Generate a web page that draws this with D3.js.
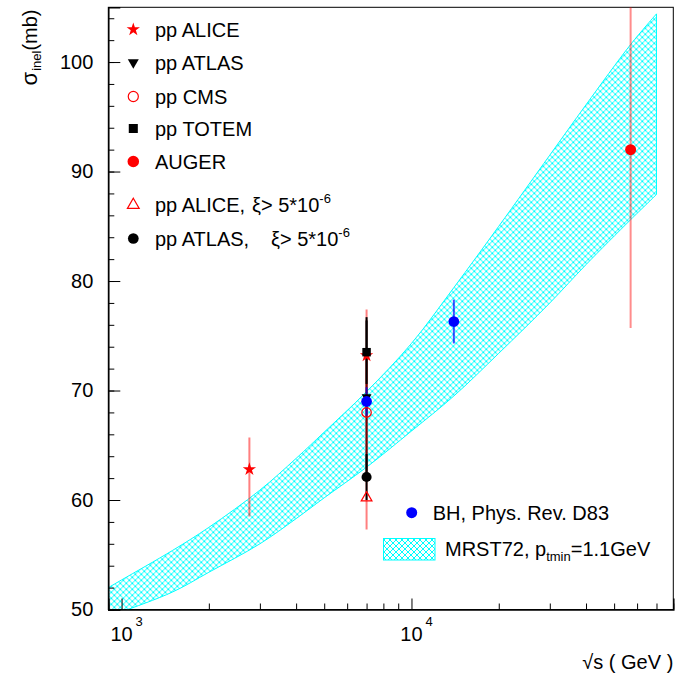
<!DOCTYPE html>
<html>
<head>
<meta charset="utf-8">
<script src="https://cdnjs.cloudflare.com/ajax/libs/d3/7.8.5/d3.min.js"></script>
<style>
body { margin: 0; background: #fff; }
svg text { font-family: "Liberation Sans", Arial, Helvetica, sans-serif; fill: #000; }
</style>
</head>
<body>
<div class="chart"></div>
<script>
// MRST72 band, p_tmin = 1.1 GeV
var bandEnergy = [900, 1000, 1500, 2000, 3000, 4000, 5000, 7000, 10000, 14000, 20000, 30000, 40000, 57000, 70000];
var bandLow    = [49.4, 49.8, 51.6, 53.4, 56.0, 58.3, 60.2, 63.0, 66.3, 69.5, 73.4, 78.0, 81.5, 85.6, 87.9];
var bandHigh   = [52.0, 52.7, 55.4, 57.5, 60.9, 63.8, 66.2, 69.9, 74.3, 79.4, 85.0, 91.5, 96.1, 101.6, 104.4];

// measurements: sqrt(s) in GeV, sigma_inel in mb, lower / upper error
var aliceE = [2760, 7000],  aliceSig = [62.8, 73.2], aliceLo = [4.3, 5.3], aliceHi = [2.9, 4.2];
var atlasE = [7000],        atlasSig = [69.4],       atlasLo = [7.3],      atlasHi = [7.3];
var cmsE = [7000],          cmsSig = [68.0],         cmsLo = [5.0],        cmsHi = [5.0];
var totemE = [7000],        totemSig = [73.5],       totemLo = [2.9],      totemHi = [2.9];
var augerE = [57000],       augerSig = [92.0],       augerLo = [16.3],     augerHi = [16.3];
var aliceXiE = [7000],      aliceXiSig = [60.2],     aliceXiLo = [2.9],    aliceXiHi = [2.9];
var atlasXiE = [7000],      atlasXiSig = [62.1],     atlasXiLo = [2.1],    atlasXiHi = [2.1];
var bhE = [7000, 14000],    bhSig = [69.0, 76.3],    bhLo = [1.3, 2.0],    bhHi = [1.3, 2.0];

var yTicks = [50, 60, 70, 80, 90, 100];
var xTicks = [1000, 10000];

var svgWidth = 682, svgHeight = 676;
var margin = { top: 7.3, right: 8.7, bottom: 66.5, left: 108.3 };
var width = svgWidth - margin.left - margin.right;
var height = svgHeight - margin.top - margin.bottom;

var svg = d3.select(".chart").append("svg")
    .attr("width", svgWidth)
    .attr("height", svgHeight);

var defs = svg.append("defs");
var pat = defs.append("pattern")
    .attr("id", "hatch")
    .attr("patternUnits", "userSpaceOnUse")
    .attr("width", 6).attr("height", 6);
pat.append("path")
    .attr("d", "M0,0 L6,6 M6,0 L0,6 M-1,5 L1,7 M5,-1 L7,1 M-1,1 L1,-1 M5,7 L7,5")
    .attr("stroke", "#00ffff")
    .attr("stroke-width", 1)
    .attr("shape-rendering", "crispEdges")
    .attr("fill", "none");

defs.append("clipPath").attr("id", "plotclip")
  .append("rect").attr("width", width).attr("height", height);

var chart = svg.append("g")
    .attr("transform", `translate(${margin.left}, ${margin.top})`);

var xScale = d3.scaleLog().domain([900, 80000]).range([0, width]);
var yScale = d3.scaleLinear().domain([50, 105]).range([height, 0]);

// frame
chart.append("rect")
    .attr("width", width).attr("height", height)
    .attr("fill", "none").attr("stroke", "#000").attr("stroke-width", 1);

var plot = chart.append("g").attr("clip-path", "url(#plotclip)");

// band
var bandData = bandEnergy.map((e, i) => ({ e: e, lo: bandLow[i], hi: bandHigh[i] }));
var area = d3.area()
    .x(d => xScale(d.e))
    .y0(d => yScale(d.lo))
    .y1(d => yScale(d.hi))
    .curve(d3.curveCatmullRom);
plot.append("path")
    .datum(bandData)
    .attr("d", area)
    .attr("fill", "url(#hatch)")
    .attr("stroke", "#00ffff")
    .attr("stroke-width", 1);

var redBar = "rgba(255,0,0,0.5)";
var series = [
  { name: "pp ALICE",  type: d3.symbolStar,     size: 55, rot: 0,   fill: "red",  stroke: "none", bar: redBar,  x: aliceE,  y: aliceSig,  lo: aliceLo,  hi: aliceHi },
  { name: "pp ATLAS",  type: d3.symbolTriangle, size: 42, rot: 180, fill: "#000", stroke: "none", bar: "#000",  x: atlasE,  y: atlasSig,  lo: atlasLo,  hi: atlasHi },
  { name: "pp CMS",    type: d3.symbolCircle,   size: 70, rot: 0,   fill: "none", stroke: "red",  bar: redBar,  x: cmsE,    y: cmsSig,    lo: cmsLo,    hi: cmsHi },
  { name: "pp TOTEM",  type: d3.symbolSquare,   size: 72, rot: 0,   fill: "#000", stroke: "none", bar: "#000",  x: totemE,  y: totemSig,  lo: totemLo,  hi: totemHi },
  { name: "AUGER",     type: d3.symbolCircle,   size: 95, rot: 0,   fill: "red",  stroke: "none", bar: "rgba(255,0,0,0.45)", x: augerE, y: augerSig, lo: augerLo, hi: augerHi },
  { name: "pp ALICE xi", type: d3.symbolTriangle, size: 50, rot: 0, fill: "none", stroke: "red",  bar: redBar,  x: aliceXiE, y: aliceXiSig, lo: aliceXiLo, hi: aliceXiHi },
  { name: "pp ATLAS xi", type: d3.symbolCircle,   size: 80, rot: 0, fill: "#000", stroke: "none", bar: "#000",  x: atlasXiE, y: atlasXiSig, lo: atlasXiLo, hi: atlasXiHi },
  { name: "BH",        type: d3.symbolCircle,   size: 90, rot: 0,   fill: "#0000ff", stroke: "none", bar: "rgba(0,0,255,0.7)", x: bhE, y: bhSig, lo: bhLo, hi: bhHi }
];

// error bars first
series.forEach(function (s) {
  var pts = s.x.map((e, i) => ({ e: e, v: s.y[i], lo: s.lo[i], hi: s.hi[i] }));
  plot.selectAll(null).data(pts).enter().append("line")
      .attr("x1", d => xScale(d.e)).attr("x2", d => xScale(d.e))
      .attr("y1", d => yScale(d.v - d.lo)).attr("y2", d => yScale(d.v + d.hi))
      .attr("stroke", s.bar).attr("stroke-width", 2);
});

// draw order for markers: ALICE star under TOTEM square
var order = [0, 3, 1, 7, 2, 6, 5, 4];
order.forEach(function (k) {
  var s = series[k];
  var pts = s.x.map((e, i) => ({ e: e, v: s.y[i] }));
  plot.selectAll(null).data(pts).enter().append("path")
      .attr("d", d3.symbol().type(s.type).size(s.size))
      .attr("transform", d => `translate(${xScale(d.e)}, ${yScale(d.v)}) rotate(${s.rot})`)
      .attr("fill", s.fill)
      .attr("stroke", s.stroke)
      .attr("stroke-width", 1.2);
});

// y axis
var yMinor = d3.range(50, 105.1, 2);
chart.append("g").call(d3.axisLeft(yScale).tickValues(yMinor).tickSize(-6).tickFormat(""))
    .call(g => g.select(".domain").remove());
var yAxis = chart.append("g")
    .call(d3.axisLeft(yScale).tickValues(yTicks).tickSize(-12).tickPadding(15).tickFormat(d3.format("d")));
yAxis.selectAll("text").attr("font-size", "20px").attr("fill", "#000").attr("font-family", "Liberation Sans, Arial, sans-serif");
yAxis.select(".domain").attr("stroke-width", 1.5);

// x axis
var xMinor = [];
[100, 1000, 10000].forEach(function (b) {
  for (var m = 2; m <= 9; m++) {
    if (b * m >= 900 && b * m <= 80000) xMinor.push(b * m);
  }
});
chart.append("g").attr("transform", `translate(0, ${height})`)
    .call(d3.axisBottom(xScale).tickValues(xMinor).tickSize(-6).tickFormat(""))
    .call(g => g.select(".domain").remove());
var xAxis = chart.append("g").attr("transform", `translate(0, ${height})`)
    .call(d3.axisBottom(xScale).tickValues(xTicks).tickSize(-11).tickFormat(""));
xAxis.select(".domain").attr("stroke-width", 1.5);

chart.append("g").selectAll("text")
    .data(xTicks).enter().append("text")
    .attr("x", d => xScale(d))
    .attr("y", height + 32)
    .attr("text-anchor", "middle")
    .attr("font-size", "20px")
    .text("10");
chart.append("g").selectAll("text")
    .data(xTicks).enter().append("text")
    .attr("x", d => xScale(d) + 14)
    .attr("y", height + 17)
    .attr("font-size", "13px")
    .text(d => Math.round(Math.log10(d)));

// axis titles
chart.append("text")
    .attr("x", width)
    .attr("y", height + 59.5)
    .attr("text-anchor", "end")
    .attr("font-size", "20px")
    .text("\u221As ( GeV )");

var yTitle = svg.append("text")
    .attr("transform", "translate(37, 9.5) rotate(-90)")
    .attr("text-anchor", "end")
    .attr("font-size", "20px");
yTitle.append("tspan").attr("font-size", "22px").text("\u03c3");
yTitle.append("tspan").attr("font-size", "13px").attr("dy", "4").attr("dx", "1").text("inel");
yTitle.append("tspan").attr("dy", "-4").text("(mb)");

// upper-left legend
var legendY = [29.5, 62.5, 96.5, 128.5, 161.5, 205, 238.5];
var legendX = 133.3, legendTextX = 155;
var legend = svg.append("g");
for (var i = 0; i < 7; i++) {
  var s = series[i];
  legend.append("path")
      .attr("d", d3.symbol().type(s.type).size(s.size + (i === 0 ? 0 : 10)))
      .attr("transform", `translate(${legendX}, ${legendY[i]}) rotate(${s.rot})`)
      .attr("fill", s.fill)
      .attr("stroke", s.stroke)
      .attr("stroke-width", 1.2);
}
var legendNames = ["pp ALICE", "pp ATLAS", "pp CMS", "pp TOTEM", "AUGER"];
legendNames.forEach(function (n, i) {
  legend.append("text")
      .attr("x", legendTextX).attr("y", legendY[i] + 7)
      .attr("font-size", "20px")
      .text(n);
});
// entries with xi cut
var xiRows = [
  { lab: "pp ALICE,", xiX: 252, y: legendY[5] },
  { lab: "pp ATLAS,", xiX: 271, y: legendY[6] }
];
xiRows.forEach(function (r) {
  var t = legend.append("text")
      .attr("x", legendTextX).attr("y", r.y + 7)
      .attr("font-size", "20px");
  t.append("tspan").text(r.lab);
  t.append("tspan").attr("x", r.xiX).text("\u03be> 5*10");
  t.append("tspan").attr("font-size", "13px").attr("dy", "-9").text("-6");
});

// lower-right legend
var legend2 = svg.append("g");
legend2.append("path")
    .attr("d", d3.symbol().type(d3.symbolCircle).size(95))
    .attr("transform", "translate(411.7, 512.7)")
    .attr("fill", "#0000ff");
legend2.append("text")
    .attr("x", 432.7).attr("y", 519.5)
    .attr("font-size", "20px")
    .text("BH, Phys. Rev. D83");
legend2.append("rect")
    .attr("x", 383.5).attr("y", 538.5)
    .attr("width", 51.5).attr("height", 21.5)
    .attr("fill", "url(#hatch)")
    .attr("stroke", "#00ffff").attr("stroke-width", 1);
var mt = legend2.append("text")
    .attr("x", 445).attr("y", 556)
    .attr("font-size", "20px");
mt.append("tspan").text("MRST72, p");
mt.append("tspan").attr("font-size", "13px").attr("dy", "5").text("tmin");
mt.append("tspan").attr("dy", "-5").text("=1.1GeV");
</script>
</body>
</html>
